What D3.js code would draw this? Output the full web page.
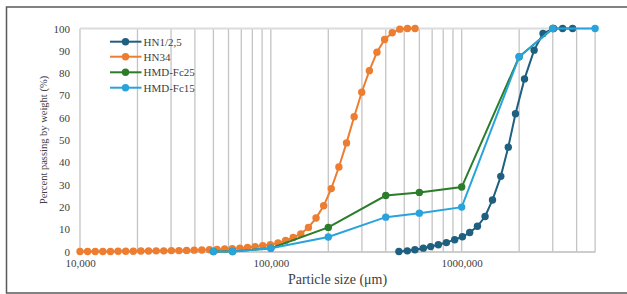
<!DOCTYPE html>
<html><head><meta charset="utf-8">
<script src="https://cdn.jsdelivr.net/npm/d3@7"></script>
<style>html,body{margin:0;padding:0;background:#fff;}svg{display:block;}</style>
</head><body>
<svg id="chart" width="627" height="294"></svg>
<script>
// ---- data ----
const seriesNames = ["HN1/2,5", "HN34", "HMD-Fc25", "HMD-Fc15"];
const seriesColors = ["#1f5f80", "#ed7d31", "#2b7d2b", "#29a3dc"];

const hn125Size = [468700, 518800, 568700, 629400, 687600, 754600, 831300, 918900, 1008600, 1101600, 1209200, 1325800, 1449900, 1602300, 1754100, 1913800, 2133400, 2396000, 2668000, 3030000, 3378000, 3811000];
const hn125Pass = [0, 0.3, 0.8, 1.5, 2.2, 3.0, 4.0, 5.3, 6.6, 8.5, 11.3, 15.7, 23.1, 33.7, 46.8, 61.8, 77.4, 90.3, 97.8, 100, 100, 100];

const hn34Size = [10000, 10960, 12020, 13170, 14440, 15830, 17350, 19020, 20850, 22860, 25060, 27470, 30120, 33010, 36190, 39670, 43490, 47680, 52260, 57290, 62810, 68850, 75470, 82730, 90690, 99430, 109000, 119500, 131000, 143600, 157400, 172500, 189100, 207300, 227300, 249200, 273200, 299400, 328300, 359800, 394500, 432400, 474000, 519600, 569700];
const hn34Pass = [0, 0, 0, 0, 0, 0.1, 0.1, 0.1, 0.2, 0.2, 0.3, 0.3, 0.4, 0.4, 0.5, 0.6, 0.7, 0.8, 0.9, 1.1, 1.3, 1.5, 1.8, 2.1, 2.6, 3.0, 3.8, 4.9, 6.3, 7.9, 10.8, 15.0, 20.5, 28.2, 37.9, 48.7, 60.4, 71.4, 81.1, 89.4, 95.1, 98.1, 99.7, 100, 100];

const fc25Size = [50000, 63000, 100000, 200000, 400000, 600000, 1000000, 2000000, 3000000];
const fc25Pass = [0, 0, 1.5, 10.8, 25.1, 26.5, 28.9, 87.3, 100];

const fc15Size = [50000, 63000, 100000, 200000, 400000, 600000, 1000000, 2000000, 3000000, 5000000];
const fc15Pass = [0, 0, 1.5, 6.5, 15.4, 17.2, 19.9, 87.3, 100, 100];

const xTickValues = [10000, 100000, 1000000];
const xTickLabels = ["10,000", "100,000", "1000,000"];
const yTickValues = [0, 10, 20, 30, 40, 50, 60, 70, 80, 90, 100];
const xTitle = "Particle size (\u03bcm)";
const yTitle = "Percent passing by weight (%)";

// ---- drawing ----
const svg = d3.select("#chart");
const font = "'Liberation Serif', 'DejaVu Serif', serif";
const textColor = "#404040";

svg.append("rect").attr("x", 6.5).attr("y", 7).attr("width", 660).attr("height", 286)
  .attr("fill", "#fff").attr("stroke", "#5a5a5a").attr("stroke-width", 1.5);

const x = d3.scaleLog().domain([10000, 5000000]).range([80, 595.1]);
const y = d3.scaleLinear().domain([0, 100]).range([251.5, 28.5]);

// vertical grid lines at 1..9 x each decade
const gridVals = [];
[10000, 100000, 1000000].forEach(d => { for (let m = 1; m <= 9; m++) { const v = d * m; if (v <= 5000000) gridVals.push(v); } });
svg.append("g").selectAll("line").data(gridVals).join("line")
  .attr("x1", d => x(d)).attr("x2", d => x(d))
  .attr("y1", y(100)).attr("y2", y(0))
  .attr("stroke", "#c4c4c4").attr("stroke-width", 1.3);

// top line at 100
svg.append("line").attr("x1", x(10000)).attr("x2", x(5000000))
  .attr("y1", y(100)).attr("y2", y(100)).attr("stroke", "#dcdcdc").attr("stroke-width", 2);

// x axis
const xAxis = d3.axisBottom(x).tickValues(xTickValues)
  .tickFormat((d, i) => xTickLabels[i]).tickSize(0).tickPadding(8);
const gx = svg.append("g").attr("transform", `translate(0,${y(0)})`).call(xAxis);
gx.select(".domain").attr("stroke", "#bcbcbc").attr("stroke-width", 1.6);
gx.selectAll("text").attr("font-family", font).attr("font-size", 11).attr("fill", textColor);

// y axis
const yAxis = d3.axisLeft(y).tickValues(yTickValues).tickSize(0).tickPadding(10);
const gy = svg.append("g").attr("transform", `translate(${x(10000)},0)`).call(yAxis);
gy.select(".domain").remove();
gy.selectAll("text").attr("font-family", font).attr("font-size", 11).attr("fill", textColor);

// titles
svg.append("text").attr("x", 337.5).attr("y", 284).attr("text-anchor", "middle")
  .attr("font-family", font).attr("font-size", 14).attr("fill", textColor).text(xTitle);
svg.append("text").attr("transform", "translate(47,140) rotate(-90)").attr("text-anchor", "middle")
  .attr("font-family", font).attr("font-size", 10.5).attr("fill", textColor).text(yTitle);

// series
const series = [
  { sizes: hn125Size, pass: hn125Pass },
  { sizes: hn34Size, pass: hn34Pass },
  { sizes: fc25Size, pass: fc25Pass },
  { sizes: fc15Size, pass: fc15Pass }
];
const line = d3.line().x(d => x(d[0])).y(d => y(d[1]));
series.forEach((s, i) => {
  const pts = s.sizes.map((v, j) => [v, s.pass[j]]);
  const g = svg.append("g");
  g.append("path").datum(pts).attr("d", line).attr("fill", "none")
    .attr("stroke", seriesColors[i]).attr("stroke-width", 2);
  g.selectAll("circle").data(pts).join("circle")
    .attr("cx", d => x(d[0])).attr("cy", d => y(d[1])).attr("r", 3.7)
    .attr("fill", seriesColors[i]);
});

// legend
const legendY = [41.7, 56.7, 72.3, 87.7];
const lg = svg.append("g");
seriesNames.forEach((n, i) => {
  lg.append("line").attr("x1", 110).attr("x2", 141.5).attr("y1", legendY[i]).attr("y2", legendY[i])
    .attr("stroke", seriesColors[i]).attr("stroke-width", 2);
  lg.append("circle").attr("cx", 125.5).attr("cy", legendY[i]).attr("r", 3.7).attr("fill", seriesColors[i]);
  lg.append("text").attr("x", 143.5).attr("y", legendY[i]).attr("dy", "0.35em")
    .attr("font-family", font).attr("font-size", 11).attr("fill", textColor).text(n);
});
</script>
</body></html>
